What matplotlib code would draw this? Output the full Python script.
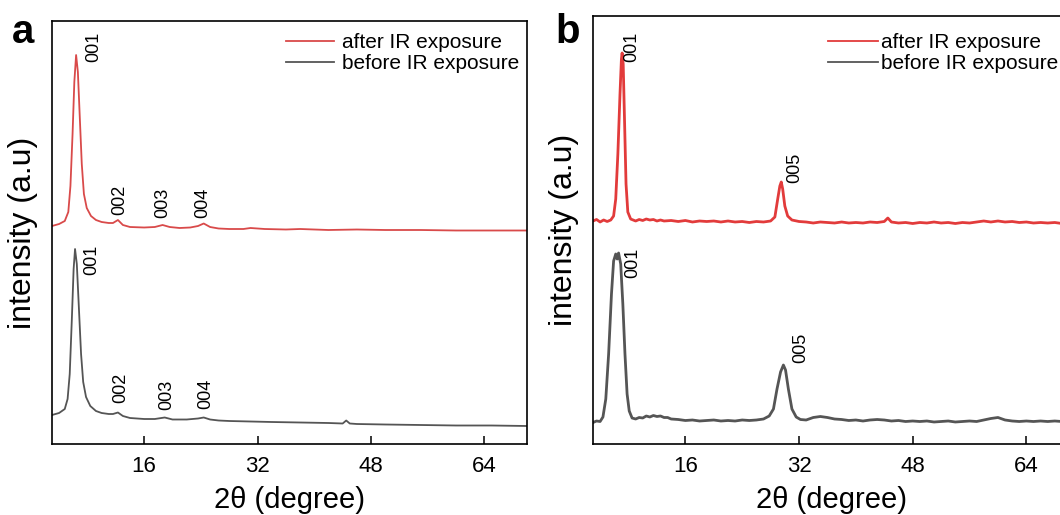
import matplotlib
matplotlib.use('Agg')
import matplotlib.pyplot as plt

# ---- data (intensity in a.u.) ----
# panel a
a_after_x = [3.0, 4.0, 4.8, 5.3, 5.6, 5.9, 6.15, 6.4, 6.65, 6.9, 7.2, 7.5, 7.9, 8.5, 9.2, 10, 11,
             11.6, 12.3, 13.0, 14, 16, 17.5, 18.6, 19.6, 21, 22.5, 23.6, 24.4, 25.3, 26.5, 28,
             30, 31, 33, 36, 38, 42, 46, 50, 55, 60, 65, 70]
a_after_y = [218, 220, 223, 232, 258, 310, 362, 389, 372, 330, 280, 250, 236, 228, 224, 222, 221,
             221, 224, 219, 217, 216.5, 217, 219, 217, 216, 216.5, 218, 220.5, 217, 215.5, 215,
             215, 216, 215, 214.5, 215, 214, 214.5, 214, 214, 213.5, 213.5, 213.5]

a_before_x = [3.0, 4.0, 4.8, 5.2, 5.5, 5.8, 6.05, 6.25, 6.5, 6.8, 7.1, 7.4, 7.8, 8.4, 9.2, 10, 11,
              11.6, 12.3, 13.0, 14, 16, 17.5, 18.9, 20, 22, 23.6, 24.4, 25.3, 26.5, 28, 31, 34,
              38, 42, 44.0, 44.5, 45.0, 46, 50, 55, 60, 65, 70]
a_before_y = [29, 31, 35, 45, 70, 125, 175, 195, 180, 135, 90, 62, 47, 38, 33, 31, 30,
              30, 31.5, 28, 26, 25, 25, 26.5, 24.5, 24.5, 25.5, 26.5, 24.5, 23.5, 23, 22.5, 22,
              21.5, 21, 20.5, 23.5, 20.5, 20, 19.5, 19, 18.5, 18.5, 18]

# panel b
b_after_x = [3.0, 3.5, 4.0, 4.5, 5.0, 5.5, 5.9, 6.2, 6.5, 6.8, 7.0, 7.1, 7.25, 7.45, 7.65, 7.9,
             8.3, 9, 9.5, 10, 10.5, 11, 11.5, 12, 12.5, 13, 14, 15, 16, 17, 18, 19, 20, 21, 22,
             23, 24, 25, 26, 27, 28, 28.6, 29.0, 29.3, 29.5, 29.7, 30.0, 30.4, 31, 32, 33, 34,
             35, 36, 37, 38, 39, 40, 41, 42, 43, 44, 44.5, 45, 46, 47, 48, 49, 50, 51, 52, 53,
             54, 55, 56, 57, 58, 59, 60, 61, 62, 63, 64, 65, 66, 67, 68, 69, 70]
b_after_y = [223, 224.5, 222, 224, 222.5, 224, 228, 245, 290, 350, 385, 391, 380, 320, 260, 232,
             225, 223, 224.5, 223.5, 225, 224, 224.5, 223, 224, 223, 223.5, 222.5, 223.5, 222, 223,
             222.5, 223, 222, 223, 222, 222.5, 221.5, 222.5, 222, 223, 227, 245, 258, 262, 255,
             238, 228, 224, 222.5, 222, 221, 222, 221.5, 221, 222, 221, 221.5, 221, 222, 221.5,
             222.5, 226, 222, 221, 221.5, 220.5, 221.5, 221, 222, 221, 221.5, 220.5, 221.5, 221,
             222, 223, 222, 223, 222, 222.5, 221.5, 222, 221, 221.5, 221, 221.5, 220.5, 221]

b_before_x = [3.0, 3.5, 4.0, 4.4, 4.8, 5.2, 5.6, 5.9, 6.2, 6.4, 6.6, 6.9, 7.2, 7.5, 7.8, 8.1,
              8.5, 9, 9.5, 10, 10.5, 11, 11.5, 12, 12.5, 13, 13.5, 14, 15, 16, 17, 18, 19, 20,
              21, 22, 23, 24, 25, 26, 27, 27.8, 28.4, 28.9, 29.4, 29.8, 30.1, 30.5, 31.0, 31.6,
              32.2, 33, 34, 35, 36, 37, 38, 39, 40, 41, 42, 43, 44, 45, 46, 47, 48, 49, 50, 51,
              52, 53, 54, 55, 56, 57, 58, 59, 60, 61, 62, 63, 64, 65, 66, 67, 68, 69, 70]
b_before_y = [21.5, 23, 22.5, 27, 45, 90, 150, 183, 190, 185, 191, 180, 140, 90, 50, 33,
              26, 25, 26.5, 26, 28, 27, 28.5, 27.5, 28, 26.5, 26.5, 25, 24.5, 23.5, 24, 23, 23.5,
              24, 23, 23.5, 23, 24, 23.5, 24, 25, 28, 35, 55, 72, 79, 74, 55, 35, 27,
              24.5, 24, 26.5, 27.5, 26.5, 25, 24.5, 23.5, 24, 23, 24, 24.5, 24, 23, 23.5, 22.5,
              23, 22.5, 23, 22, 22.5, 23, 22, 22.5, 23, 22.5, 24, 25.5, 26.5, 24, 23, 22.5, 23,
              22.5, 23, 22.5, 23, 22.5, 22.5]

# peak labels: (text, 2theta, intensity)
a_after_labels = [('001', 8.9, 382), ('002', 12.6, 229), ('003', 18.6, 226), ('004', 24.2, 226)]
a_before_labels = [('001', 8.6, 169), ('002', 12.7, 41), ('003', 19.2, 34), ('004', 24.7, 35)]
b_after_labels = [('001', 8.5, 382), ('005', 31.4, 261)]
b_before_labels = [('001', 8.6, 166), ('005', 32.2, 81)]

x_ticks = [16, 32, 48, 64]

RED_A = '#d94a4a'
RED_B = '#e23b3b'
GRAY = '#555555'

plt.rcParams['font.family'] = ['Liberation Sans', 'DejaVu Sans']

fig = plt.figure(figsize=(10.6, 5.15), dpi=100)
W, H = 1060, 515


def make_axes(left, top, right, bottom):
    return fig.add_axes([left / W, (H - bottom) / H, (right - left) / W, (bottom - top) / H])


ax_a = make_axes(52, 21, 527, 444)
ax_b = make_axes(593, 16, 1069, 444)


def style(ax, ymax):
    ax.set_xlim(3, 70)
    ax.set_ylim(0, ymax)
    ax.set_xticks(x_ticks)
    ax.set_yticks([])
    ax.tick_params(axis='x', direction='in', length=6, width=1.1, labelsize=16, pad=9)
    for s in ax.spines.values():
        s.set_linewidth(1.2)
    ax.set_xlabel('2\u03b8 (degree)', fontsize=21, labelpad=6)
    ax.set_ylabel('intensity (a.u)', fontsize=23, labelpad=10)


def peak_labels(ax, labels):
    for txt, x, y in labels:
        ax.text(x, y, txt, rotation=90, ha='center', va='bottom', fontsize=13)


# panel a
ax_a.plot(a_after_x, a_after_y, color=RED_A, lw=1.3, label='after IR exposure')
ax_a.plot(a_before_x, a_before_y, color=GRAY, lw=1.3, label='before IR exposure')
style(ax_a, 423)
peak_labels(ax_a, a_after_labels)
peak_labels(ax_a, a_before_labels)
ax_a.legend(loc='upper right', bbox_to_anchor=(0.983, 0.972), frameon=False, fontsize=15,
            handlelength=2.3, handletextpad=0.35, labelspacing=0.1, borderpad=0, borderaxespad=0)

# panel b
ax_b.plot(b_after_x, b_after_y, color=RED_B, lw=2.0, label='after IR exposure')
ax_b.plot(b_before_x, b_before_y, color=GRAY, lw=2.0, label='before IR exposure')
style(ax_b, 428)
peak_labels(ax_b, b_after_labels)
peak_labels(ax_b, b_before_labels)
leg = ax_b.legend(loc='upper right', bbox_to_anchor=(0.977, 0.960), frameon=False, fontsize=15,
                  handlelength=2.4, handletextpad=0.15, labelspacing=0.1, borderpad=0,
                  borderaxespad=0)
for line in leg.get_lines():
    line.set_linewidth(1.3)

fig.text(12 / W, (H - 43) / H, 'a', fontsize=29, fontweight='bold', ha='left', va='baseline')
fig.text(555 / W, (H - 43) / H, 'b', fontsize=29, fontweight='bold', ha='left', va='baseline')

fig.savefig('out.png', dpi=100)
